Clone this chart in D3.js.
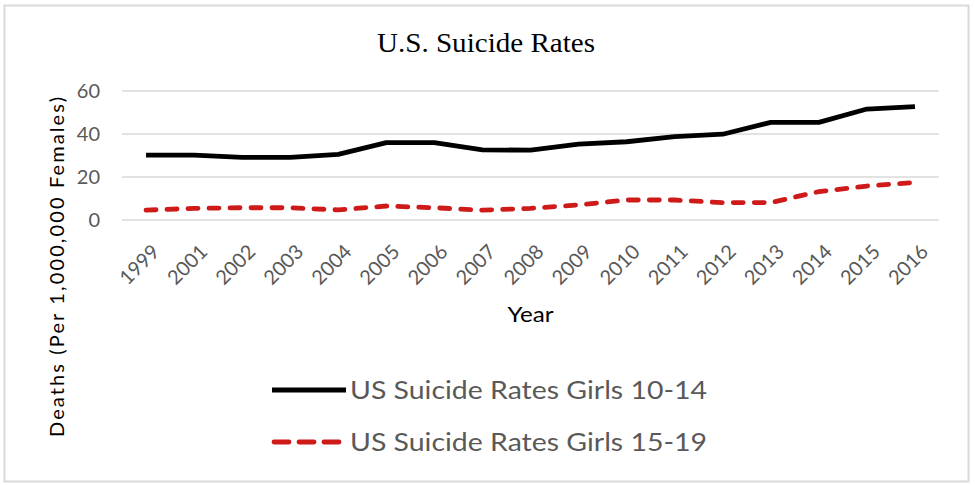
<!DOCTYPE html>
<html lang="en">
<head>
    <meta charset="UTF-8">
    <title>U.S. Suicide Rates</title>
    <script src="https://cdn.jsdelivr.net/npm/d3@7"></script>
    <style>
        body { margin: 0; background: #ffffff; }
    </style>
</head>
<body>
<div id="mainContent"></div>
<script>
    const years = ["1999", "2001", "2002", "2003", "2004", "2005", "2006", "2007", "2008",
        "2009", "2010", "2011", "2012", "2013", "2014", "2015", "2016"];
    const girls1014 = [30.2, 30.2, 29.1, 29.1, 30.5, 36, 36, 32.6, 32.5,
        35.3, 36.4, 38.8, 39.9, 45.4, 45.4, 51.6, 52.7];
    const girls1519 = [4.6, 5.4, 5.7, 5.7, 4.7, 6.5, 5.7, 4.6, 5.4,
        7, 9.3, 9.3, 8.1, 8.1, 13.2, 15.8, 17.4];
    const yTicks = [0, 20, 40, 60];
    const seriesNames = ["US Suicide Rates Girls 10-14", "US Suicide Rates Girls 15-19"];

    const fullWidth = 975, fullHeight = 485;
    const margin = {top: 91, right: 36, bottom: 265, left: 122},
        width = fullWidth - margin.left - margin.right,
        height = fullHeight - margin.top - margin.bottom;

    const labelGrey = "#595959";
    const redDash = "#cf1a1a";

    let svg = d3.select("#mainContent")
        .append("svg")
        .attr("width", fullWidth)
        .attr("height", fullHeight);

    // outer chart border
    svg.append("rect")
        .attr("x", 4.5).attr("y", 5.5)
        .attr("width", 964).attr("height", 476)
        .attr("fill", "#ffffff")
        .attr("stroke", "#d9d9d9")
        .attr("stroke-width", 2);

    let g = svg.append("g")
        .attr("transform", "translate(" + margin.left + "," + margin.top + ")");

    let xScale = d3.scalePoint()
        .domain(years)
        .range([0, width])
        .padding(0.5);

    let yScale = d3.scaleLinear()
        .domain([0, 60])
        .range([height, 0]);

    // gridlines
    g.append("g")
        .selectAll("line")
        .data(yTicks).enter()
        .append("line")
        .attr("x1", 0).attr("x2", width)
        .attr("y1", d => yScale(d)).attr("y2", d => yScale(d))
        .attr("stroke", "#d9d9d9")
        .attr("stroke-width", 1.3);

    // y axis labels
    const yAxis = d3.axisLeft(yScale).tickValues(yTicks).tickSize(0).tickPadding(22);
    let yAxisNodes = g.append("g").call(yAxis);
    yAxisNodes.select(".domain").remove();
    yAxisNodes.selectAll(".tick text")
        .attr("fill", labelGrey)
        .attr("font-family", "Lato, sans-serif")
        .attr("font-size", 20);

    // x axis labels (rotated)
    const xAxis = d3.axisBottom(xScale).tickSize(0);
    let xAxisNodes = g.append("g")
        .attr("transform", "translate(0," + height + ")")
        .call(xAxis);
    xAxisNodes.select(".domain").remove();
    xAxisNodes.selectAll(".tick text")
        .attr("fill", labelGrey)
        .attr("font-family", "Lato, sans-serif")
        .attr("font-size", 20)
        .attr("text-anchor", "end")
        .attr("dy", "0.35em")
        .attr("transform", "translate(7,26) rotate(-45)");

    const lineGen = d3.line()
        .x((d, i) => xScale(years[i]))
        .y(d => yScale(d));

    g.append("path")
        .datum(girls1014)
        .attr("d", lineGen)
        .attr("fill", "none")
        .attr("stroke", "#000000")
        .attr("stroke-width", 4.8)
        .attr("stroke-linejoin", "round");

    g.append("path")
        .datum(girls1519)
        .attr("d", lineGen)
        .attr("fill", "none")
        .attr("stroke", redDash)
        .attr("stroke-width", 4.8)
        .attr("stroke-linecap", "round")
        .attr("stroke-dasharray", "10,11");

    // title
    svg.append("text").text("U.S. Suicide Rates")
        .attr("x", 486).attr("y", 52)
        .attr("text-anchor", "middle")
        .attr("font-family", "Liberation Serif, serif")
        .attr("font-size", 28)
        .attr("textLength", 218)
        .attr("lengthAdjust", "spacingAndGlyphs")
        .attr("fill", "#000000");

    // axis titles
    svg.append("text").text("Year")
        .attr("x", margin.left + width / 2).attr("y", 322)
        .attr("text-anchor", "middle")
        .attr("font-family", "Lato, sans-serif")
        .attr("font-size", 21)
        .attr("textLength", 46)
        .attr("lengthAdjust", "spacingAndGlyphs")
        .attr("fill", "#000000");

    svg.append("text").text("Deaths (Per 1,000,000 Females)")
        .attr("transform", "translate(64,267) rotate(-90)")
        .attr("text-anchor", "middle")
        .attr("font-family", "Lato, sans-serif")
        .attr("font-size", 20)
        .attr("textLength", 340)
        .attr("lengthAdjust", "spacing")
        .attr("fill", "#000000");

    // legend
    const legend = svg.append("g");
    const legendY = [390, 442];
    legend.append("line")
        .attr("x1", 272).attr("x2", 346)
        .attr("y1", legendY[0]).attr("y2", legendY[0])
        .attr("stroke", "#000000").attr("stroke-width", 4.8);
    legend.append("line")
        .attr("x1", 274).attr("x2", 340)
        .attr("y1", legendY[1]).attr("y2", legendY[1])
        .attr("stroke", redDash).attr("stroke-width", 4.8)
        .attr("stroke-linecap", "round")
        .attr("stroke-dasharray", "15,10");

    legend.selectAll(".legendText")
        .data(seriesNames).enter()
        .append("text")
        .attr("class", "legendText")
        .text(d => d)
        .attr("x", 350)
        .attr("y", (d, i) => legendY[i])
        .attr("dy", "0.35em")
        .attr("font-family", "Lato, sans-serif")
        .attr("font-size", 25)
        .attr("textLength", 357)
        .attr("lengthAdjust", "spacingAndGlyphs")
        .attr("fill", labelGrey);
</script>
</body>
</html>
